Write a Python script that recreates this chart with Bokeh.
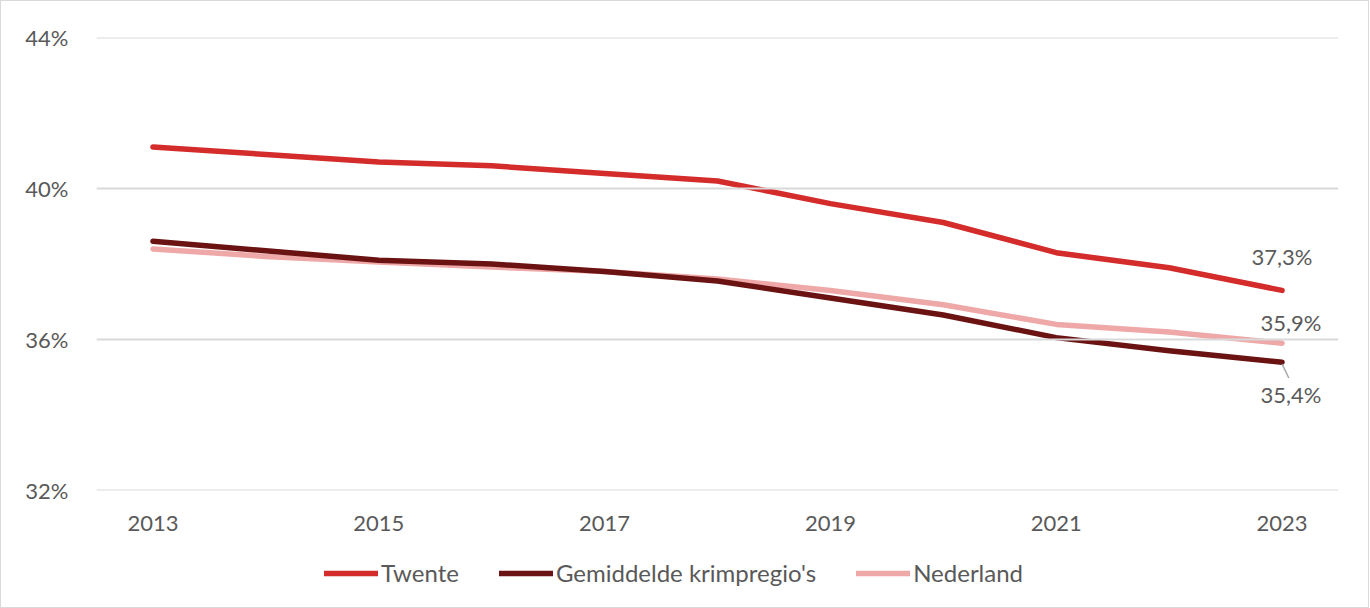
from bokeh.plotting import figure
from bokeh.layouts import column
from bokeh.models import Legend, LegendItem, Label, FixedTicker, Range1d, CustomJSTickFormatter, Span
from bokeh.embed import file_html
from bokeh.resources import INLINE

years = [2013, 2014, 2015, 2016, 2017, 2018, 2019, 2020, 2021, 2022, 2023]
twente = [41.1, 40.9, 40.7, 40.6, 40.4, 40.2, 39.6, 39.1, 38.3, 37.9, 37.3]
krimp = [38.6, 38.35, 38.1, 38.0, 37.8, 37.55, 37.1, 36.65, 36.05, 35.7, 35.4]
nederland = [38.4, 38.2, 38.05, 37.92, 37.8, 37.6, 37.3, 36.92, 36.4, 36.2, 35.9]
series_names = ["Twente", "Gemiddelde krimpregio's", "Nederland"]
x_ticks = [2013, 2015, 2017, 2019, 2021, 2023]
y_ticks = [32, 36, 40, 44]

FONT = "Lato"
TXT = "#595959"
COLORS = ["#D42B2B", "#6B1313", "#EFA8A8"]

p = figure(width=1367, height=536, output_backend="svg", toolbar_location=None,
           x_range=Range1d(2012.5, 2023.5), y_range=Range1d(32, 44),
           min_border_left=95, min_border_right=30, min_border_top=36, min_border_bottom=47)
p.outline_line_color = None
p.background_fill_color = "white"
p.border_fill_color = "white"

p.xgrid.grid_line_color = None
p.ygrid.grid_line_color = None
for t in y_ticks:
    p.add_layout(Span(location=t, dimension="width", line_color="#d9d9d9", line_width=2))

p.xaxis.ticker = FixedTicker(ticks=x_ticks)
p.yaxis.ticker = FixedTicker(ticks=y_ticks)
p.yaxis.formatter = CustomJSTickFormatter(code="return tick.toFixed(0) + '%';")
for ax in (p.xaxis, p.yaxis):
    ax.axis_line_color = None
    ax.major_tick_line_color = None
    ax.minor_tick_line_color = None
    ax.major_label_text_font = FONT
    ax.major_label_text_font_size = "22px"
    ax.major_label_text_color = TXT
p.xaxis.major_label_standoff = 19
p.yaxis.major_label_standoff = 22

series = [twente, krimp, nederland]
renderers = [p.line(years, s, line_color=c, line_width=5.5, line_cap="round", line_join="round")
             for s, c in zip(series, COLORS)]
p.renderers = [renderers[2], renderers[1], renderers[0]]

def fmt(v):
    return f"{v:.1f}%".replace(".", ",")

common = dict(text_font=FONT, text_font_size="22px", text_color=TXT, text_align="center",
              text_baseline="middle")
p.add_layout(Label(x=years[-1], y=twente[-1], text=fmt(twente[-1]), y_offset=34, **common))
p.add_layout(Label(x=years[-1], y=nederland[-1], text=fmt(nederland[-1]), x_offset=9, y_offset=21, **common))
p.add_layout(Label(x=years[-1], y=krimp[-1], text=fmt(krimp[-1]), x_offset=9, y_offset=-32, **common))
p.segment(x0=[years[-1]], y0=[krimp[-1] - 0.05], x1=[years[-1] + 0.06], y1=[krimp[-1] - 0.42],
          line_color="#a6a6a6", line_width=1.5)

# legend strip (series drawn out of view, only legend glyphs visible)
p2 = figure(width=1367, height=70, output_backend="svg", toolbar_location=None,
            x_range=Range1d(0, 1), y_range=Range1d(0, 1), min_border=0)
p2.axis.visible = False
p2.grid.grid_line_color = None
p2.outline_line_color = None
p2.border_fill_color = "white"
items = []
for name, s, c in zip(series_names, series, COLORS):
    rr = p2.line(years, s, line_color=c, line_width=5.5, line_cap="round")
    items.append(LegendItem(label=name, renderers=[rr]))
legend = Legend(items=items, orientation="horizontal", location=(228, 20),
                label_text_font=FONT, label_text_font_size="24px", label_text_color=TXT,
                glyph_width=54, glyph_height=22, label_standoff=3, spacing=40,
                border_line_color=None, background_fill_alpha=0, margin=0, padding=0)
p2.add_layout(legend)

layout = column(p, p2, spacing=0, styles={"border": "1px solid #d9d9d9"})
open("out.html", "w").write(file_html(layout, INLINE))
